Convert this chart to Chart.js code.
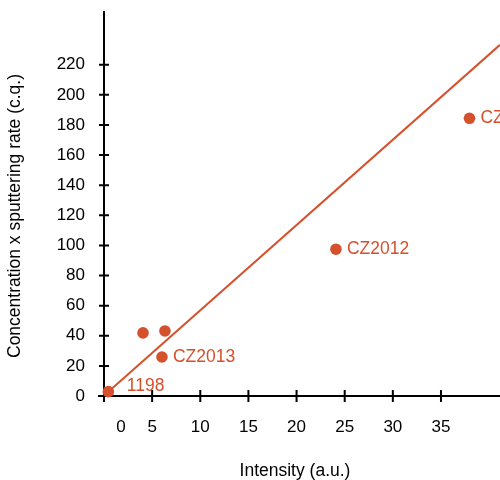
<!DOCTYPE html>
<html>
<head>
<meta charset="utf-8">
<script src="https://cdn.jsdelivr.net/npm/chart.js@4.4.0/dist/chart.umd.min.js"></script>
<style>
  html, body { margin: 0; padding: 0; background: #fff; }
  #wrap { width: 500px; height: 480px; }
</style>
</head>
<body>
<div id="wrap"><canvas id="c" width="500" height="480"></canvas></div>
<script>
// ---- data ----
const sampleNames = ['1198', '', '', 'CZ2013', 'CZ2012', 'CZ'];
const intensity = [0.45, 4.05, 6.33, 6.02, 24.09, 37.96];
const concentration = [2.9, 41.9, 43.2, 25.9, 97.5, 184.4];
const fitX = [0.45, 41.13];
const fitY = [2.9, 233.2];
const xTickValues = [0, 1.77, 5, 10, 15, 20, 25, 30, 35];
const xTickLabels = ['', '0', '5', '10', '15', '20', '25', '30', '35'];
const yTickValues = [0, 20, 40, 60, 80, 100, 120, 140, 160, 180, 200, 220];
const xTitle = 'Intensity (a.u.)';
const yTitle = 'Concentration x sputtering rate (c.q.)';

const ORANGE = '#D5502C';
const FONT = '"Liberation Sans", Arial, sans-serif';

const points = intensity.map((x, i) => ({ x: x, y: concentration[i] }));
const fitLine = fitX.map((x, i) => ({ x: x, y: fitY[i] }));

const axesPlugin = {
  id: 'axesPlugin',
  beforeDatasetsDraw(chart) {
    const ctx = chart.ctx;
    const xs = chart.scales.x, ys = chart.scales.y;
    const ax = xs.getPixelForValue(0);
    const ay = ys.getPixelForValue(0);
    ctx.save();
    ctx.strokeStyle = '#000';
    ctx.lineWidth = 2;
    ctx.beginPath();
    ctx.moveTo(ax, chart.chartArea.top - 1);
    ctx.lineTo(ax, ay + 6);
    ctx.moveTo(ax - 6, ay);
    ctx.lineTo(chart.width, ay);
    ys.ticks.forEach(t => {
      const py = ys.getPixelForValue(t.value);
      ctx.moveTo(ax - 5, py);
      ctx.lineTo(ax + 5, py);
    });
    xs.ticks.forEach((t, i) => {
      if (xTickLabels[i] === '' || t.value === xTickValues[1]) return;
      const px = xs.getPixelForValue(t.value);
      ctx.moveTo(px, ay - 6);
      ctx.lineTo(px, ay + 6);
    });
    ctx.stroke();
    ctx.restore();
  },
  afterDraw(chart) {
    const ctx = chart.ctx;
    ctx.save();
    ctx.fillStyle = '#000';
    ctx.font = '17.5px ' + FONT;
    ctx.textAlign = 'center';
    ctx.textBaseline = 'middle';
    ctx.fillText(xTitle, 295, 471);
    ctx.translate(15, 216);
    ctx.rotate(-Math.PI / 2);
    ctx.fillText(yTitle, 0, 0);
    ctx.restore();

    // point labels
    const meta = chart.getDatasetMeta(1);
    ctx.save();
    ctx.fillStyle = ORANGE;
    ctx.font = '17.5px ' + FONT;
    ctx.textAlign = 'left';
    ctx.textBaseline = 'middle';
    meta.data.forEach((el, i) => {
      const name = sampleNames[i];
      if (!name) return;
      if (i === 0) ctx.fillText(name, el.x + 18.5, el.y - 5.5);
      else ctx.fillText(name, el.x + 11, el.y);
    });
    ctx.restore();
  }
};

new Chart(document.getElementById('c'), {
  type: 'scatter',
  data: {
    datasets: [
      {
        type: 'line',
        data: fitLine,
        borderColor: ORANGE,
        borderWidth: 2,
        pointRadius: 0,
        fill: false,
        tension: 0
      },
      {
        data: points,
        backgroundColor: ORANGE,
        borderWidth: 0,
        pointRadius: 5.8,
        pointHoverRadius: 5.8,
        clip: false
      }
    ]
  },
  options: {
    responsive: false,
    animation: false,
    events: [],
    layout: { autoPadding: false, padding: { top: 12, right: 0, left: 0, bottom: 0 } },
    plugins: { legend: { display: false }, tooltip: { enabled: false } },
    scales: {
      x: {
        type: 'linear',
        min: 0,
        max: 41.13,
        border: { display: false },
        grid: { display: false, drawTicks: false },
        afterBuildTicks(scale) { scale.ticks = xTickValues.map(v => ({ value: v })); },
        afterFit(scale) {
          scale.height = 84;
          scale.paddingLeft = 0; scale.paddingRight = 0;
          scale.paddingTop = 0; scale.paddingBottom = 0;
        },
        ticks: {
          autoSkip: false,
          maxRotation: 0,
          padding: 21,
          color: '#000',
          font: { family: FONT, size: 17 },
          callback: (v, i) => xTickLabels[i]
        }
      },
      y: {
        type: 'linear',
        min: 0,
        max: 255,
        border: { display: false },
        grid: { display: false, drawTicks: false },
        afterBuildTicks(scale) { scale.ticks = yTickValues.map(v => ({ value: v })); },
        afterFit(scale) {
          scale.width = 104;
          scale.paddingLeft = 0; scale.paddingRight = 0;
          scale.paddingTop = 0; scale.paddingBottom = 0;
        },
        ticks: {
          autoSkip: false,
          padding: 19,
          color: '#000',
          font: { family: FONT, size: 17 },
          callback: v => String(v)
        }
      }
    }
  },
  plugins: [axesPlugin]
});
</script>
</body>
</html>
